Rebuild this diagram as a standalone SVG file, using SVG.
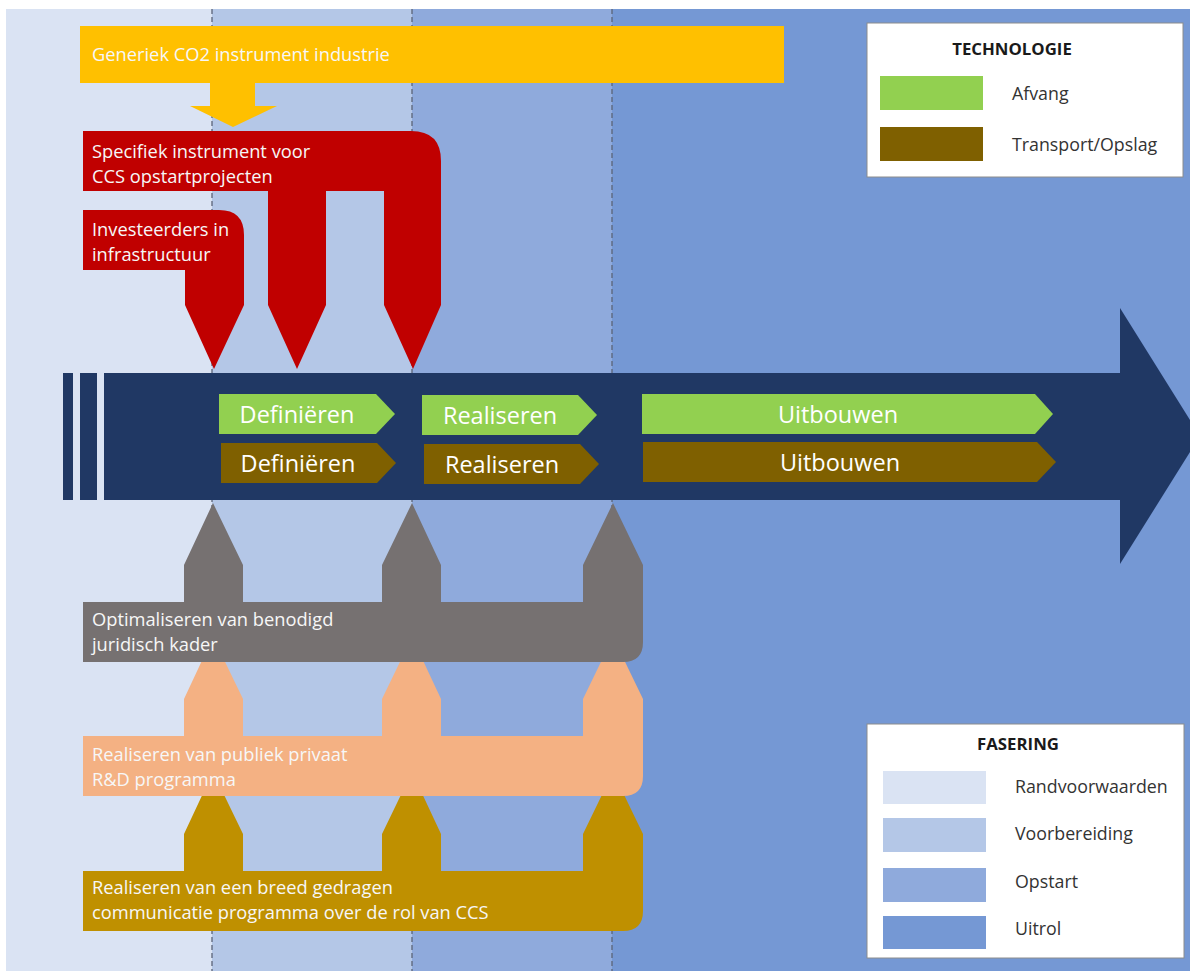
<svg xmlns="http://www.w3.org/2000/svg" width="1190" height="971" viewBox="0 0 1190 971">
<style>
.lbl{font-family:"Open Sans","Liberation Sans",sans-serif;font-size:18.3px;fill:#F7F7F7}
.chip{font-family:"Open Sans","Liberation Sans",sans-serif;font-size:23.5px;fill:#FFFFFF;text-anchor:middle}
.lt{font-family:"Open Sans","Liberation Sans",sans-serif;font-size:16.8px;font-weight:bold;fill:#1a1a1a;text-anchor:middle}
.li{font-family:"Open Sans","Liberation Sans",sans-serif;font-size:17.8px;fill:#333333}
.dash{stroke:#5b6478;stroke-width:1.3;stroke-dasharray:5 3;fill:none}
.green{fill:#92D050}
.brown{fill:#7F6000}
.legbox{fill:#FFFFFF;stroke:#8c8c8c;stroke-width:1}
</style>
<defs>
<path id="lowerShape" d="M83,602 H184 V565 L213,503 L243,565 V602 H382 V565 L412,503 L441,565 V602 H583 V565 L613,503 L643,565 V642 Q643,662 623,662 H83 Z"/>
</defs>
<rect x="0" y="0" width="1190" height="971" fill="#FFFFFF"/>
<g id="bands">
<rect x="6" y="9" width="206" height="962" fill="#DAE3F3"/>
<rect x="212" y="9" width="200" height="962" fill="#B4C7E7"/>
<rect x="412" y="9" width="200" height="962" fill="#8FAADC"/>
<rect x="612" y="9" width="578" height="962" fill="#7598D4"/>
<line class="dash" x1="212" y1="9" x2="212" y2="971"/>
<line class="dash" x1="412" y1="9" x2="412" y2="971"/>
<line class="dash" x1="612" y1="9" x2="612" y2="971"/>
</g>
<g id="timeline">
<rect x="63" y="373" width="10" height="127" fill="#203864"/>
<rect x="80" y="373" width="17" height="127" fill="#203864"/>
<path d="M104,373 H1120 V308 L1200,436 L1120,564 V500 H104 Z" fill="#203864"/>
</g>
<g id="chip-afvang-definieren"><path class="green" d="M219,394 H376 L395,414 L376,434 H219 Z"/><text class="chip" x="297" y="423">Definiëren</text></g>
<g id="chip-transport-definieren"><path class="brown" d="M221,443 H377 L396,463 L377,483 H221 Z"/><text class="chip" x="298" y="472">Definiëren</text></g>
<g id="chip-afvang-realiseren"><path class="green" d="M422,395 H578 L597,415 L578,435 H422 Z"/><text class="chip" x="500" y="424">Realiseren</text></g>
<g id="chip-transport-realiseren"><path class="brown" d="M424,444 H580 L599,464 L580,484 H424 Z"/><text class="chip" x="502" y="473">Realiseren</text></g>
<g id="chip-afvang-uitbouwen"><path class="green" d="M642,394 H1035 L1053,414 L1035,434 H642 Z"/><text class="chip" x="838" y="423">Uitbouwen</text></g>
<g id="chip-transport-uitbouwen"><path class="brown" d="M643,442 H1037 L1056,462 L1037,482 H643 Z"/><text class="chip" x="840" y="471">Uitbouwen</text></g>
<g id="generiek">
<rect x="80" y="26" width="704" height="57" fill="#FFC000"/>
<text class="lbl" x="92" y="61">Generiek CO2 instrument industrie</text>
</g>
<g id="connectors">
<path d="M210,83 H255 V106 H277 L233,127 L190,106 H210 Z" fill="#FFC000"/>
</g>
<g id="specifiek">
<path d="M83,131 H411 Q441,131 441,161 V305 L413,369 L384,305 V191 H326 V305 L297,369 L268,305 V191 H83 Z" fill="#C00000"/>
<text class="lbl" x="92" y="158">Specifiek instrument voor</text>
<text class="lbl" x="92" y="183">CCS opstartprojecten</text>
</g>
<g id="investeerders">
<path d="M83,210 H219 Q244,210 244,235 V305 L214,369 L185,305 V270 H83 Z" fill="#C00000"/>
<text class="lbl" x="92" y="236">Investeerders in</text>
<text class="lbl" x="92" y="261">infrastructuur</text>
</g>
<g id="communicatie">
<use href="#lowerShape" transform="translate(0,269)" fill="#BF9000"/>
<text class="lbl" x="92" y="894">Realiseren van een breed gedragen</text>
<text class="lbl" x="92" y="919">communicatie programma over de rol van CCS</text>
</g>
<g id="rd-programma">
<use href="#lowerShape" transform="translate(0,134)" fill="#F4B183"/>
<text class="lbl" x="92" y="761">Realiseren van publiek privaat</text>
<text class="lbl" x="92" y="786">R&amp;D programma</text>
</g>
<g id="juridisch">
<use href="#lowerShape" fill="#767171"/>
<text class="lbl" x="92" y="626">Optimaliseren van benodigd</text>
<text class="lbl" x="92" y="651">juridisch kader</text>
</g>
<g id="legend-technologie">
<rect class="legbox" x="867" y="23" width="316" height="154"/>
<text class="lt" x="1012" y="55">TECHNOLOGIE</text>
<rect class="green" x="880" y="76" width="103" height="34"/>
<text class="li" x="1012" y="100">Afvang</text>
<rect class="brown" x="880" y="127" width="103" height="34"/>
<text class="li" x="1012" y="151">Transport/Opslag</text>
</g>
<g id="legend-fasering">
<rect class="legbox" x="867" y="724" width="317" height="234"/>
<text class="lt" x="1018" y="750">FASERING</text>
<rect x="883" y="771" width="103" height="33" fill="#DAE3F3"/>
<text class="li" x="1015" y="793">Randvoorwaarden</text>
<rect x="883" y="818" width="103" height="34" fill="#B4C7E7"/>
<text class="li" x="1015" y="840">Voorbereiding</text>
<rect x="883" y="868" width="103" height="34" fill="#8FAADC"/>
<text class="li" x="1015" y="888">Opstart</text>
<rect x="883" y="916" width="103" height="33" fill="#7598D4"/>
<text class="li" x="1015" y="935">Uitrol</text>
</g>
</svg>
